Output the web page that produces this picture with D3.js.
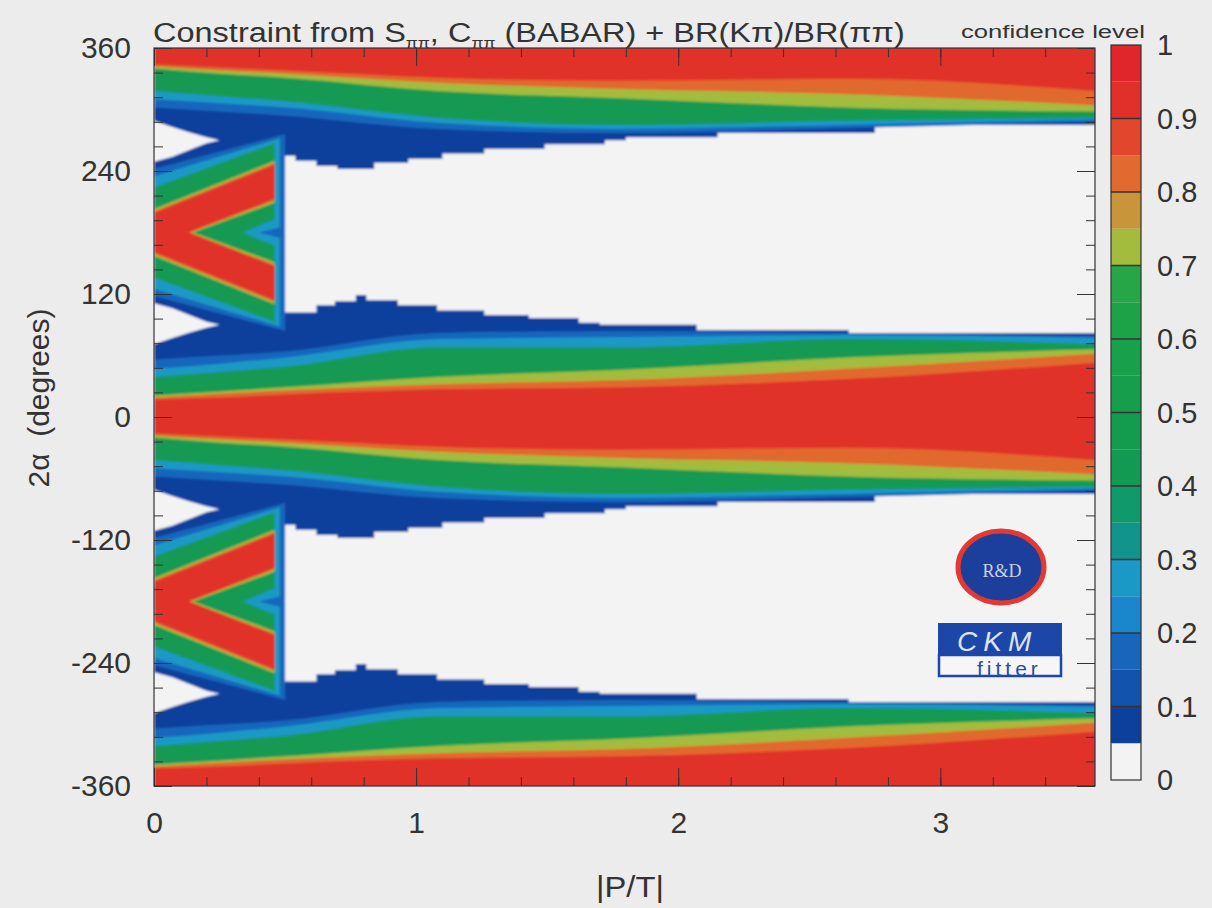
<!DOCTYPE html>
<meta charset="utf-8">
<script src="https://cdn.jsdelivr.net/npm/d3@7"></script>
<style>
  body { margin: 0; background: #ececec; }
  text { font-family: "Liberation Sans", Arial, sans-serif; fill: #333; }
</style>
<div id="chart"></div>
<script>

// ---- data ----

// |P/T| values where the band contours were read
var bandX = [0, 0.25, 0.5, 1.08, 1.78, 2.64, 3.59];
// contour of the central band, degrees from the band centre (upper side)
var up15 = [56, 60, 64, 82, 84, 82, 79];
var up25 = [47, 52, 58, 76, 78, 80, 77];
var up40 = [39, 44, 49, 68, 68, 76, 71];
var up70 = [21, 25, 29, 39, 46, 58, 66];
var up80 = [19, 23, 26, 32, 36, 47, 62];
var up90 = [17, 19, 22, 27, 29, 37, 53];
// lower side
var lo90 = [-16, -19, -22, -29, -32, -30, -42];
var lo80 = [-18, -22, -25, -34, -40, -45, -56];
var lo70 = [-20, -25, -29, -42, -49, -58, -62];
var lo40 = [-42, -47, -52, -68, -75, -71, -68];
var lo25 = [-50, -54, -58, -73, -79, -75, -70];
var lo15 = [-58, -62, -66, -79, -83, -78, -72];

// outer (CL = 0.05) edge of the band, binned steps
var edgeUpX = [0, 0.50, 0.62, 0.69, 0.77, 0.81, 0.93, 1.08, 1.26, 1.43, 1.62, 1.70, 2.07, 2.65];
var edgeUp  = [180, 102, 109, 113, 119, 114, 109, 104, 99.5, 96.5, 92, 90, 85, 82];
var edgeLoX = [0, 0.50, 0.54, 0.62, 0.70, 0.84, 0.97, 1.10, 1.26, 1.49, 1.72, 1.80, 2.15, 2.75];
var edgeLo  = [-180, -105, -110, -115, -118, -112, -108, -103, -98.5, -94, -90, -87, -83, -75];

// white spikes at small |P/T| (degrees from the band centre)
var spikeX    = [0, 0.07, 0.13, 0.20, 0.25];
var spikeNear = [71, 77, 82, 87, 90];
var spikeFar  = [111, 106, 100, 93, 90];

// chevron pattern around 2alpha = +-180
var chevLevel = [0.15, 0.25, 0.4, 0.7, 0.8, 0.9];
var chevOut0  = [62, 55, 44, 23, 21, 19];
var chevEndX  = [0.50, 0.48, 0.46, 0.46, 0.46, 0.46];
var chevOutE  = [96, 92, 87, 70, 68, 66];
var chevInE   = [0, 5, 13, 29, 31, 33];
var chevTipX  = [0.50, 0.40, 0.34, 0.15, 0.14, 0.13];

var bandOffsets = [-360, 0, 360];
var chevCentres = [-180, 180];

// colour palette, one colour per 0.05 of CL
var palette = ["#f3f3f3", "#0d3f9c", "#1253ad", "#1766bc", "#1a86cc", "#1a98c6",
               "#10948c", "#109a6c", "#129a52", "#149c4e", "#169e4c", "#18a04a",
               "#1ca348", "#26a646", "#a4bc3e", "#c8953a", "#e2692f", "#e2472d",
               "#e1302a", "#e0262a"];
var clTicks = [0, 0.1, 0.2, 0.3, 0.4, 0.5, 0.6, 0.7, 0.8, 0.9, 1];
var xTicks = [0, 1, 2, 3];
var yTicks = [-360, -240, -120, 0, 120, 240, 360];

// ---- drawing ----
var xMax = 3.59;
var x = d3.scaleLinear().domain([0, xMax]).range([154, 1095]);
var y = d3.scaleLinear().domain([-360, 360]).range([786, 48]);
var cl = d3.scaleLinear().domain([0, 1]).range([780, 45]);
function col(level) { return palette[Math.round(level / 0.05)]; }

var svg = d3.select("#chart").append("svg")
    .attr("width", 1212).attr("height", 908);

var defs = svg.append("defs");
defs.append("clipPath").attr("id", "clip")
  .append("rect").attr("x", 154).attr("y", 48).attr("width", 941).attr("height", 738);
defs.append("filter").attr("id", "soft")
  .append("feGaussianBlur").attr("stdDeviation", 1);

var plot = svg.append("g").attr("clip-path", "url(#clip)")
  .append("g").attr("filter", "url(#soft)");

plot.append("rect").attr("x", 140).attr("y", 30).attr("width", 980).attr("height", 780)
    .attr("fill", palette[0]);

var line = d3.line().x(function(d) { return x(d[0]); }).y(function(d) { return y(d[1]); });

function stairs(xs, vals, off) {
  var pts = [];
  xs.forEach(function(x0, i) {
    var x1 = i < xs.length - 1 ? xs[i + 1] : xMax + 0.1;
    pts.push([x0, off + vals[i]], [x1, off + vals[i]]);
  });
  return pts;
}

// outer edge of each band
bandOffsets.forEach(function(off) {
  var pts = stairs(edgeUpX, edgeUp, off).concat(stairs(edgeLoX, edgeLo, off).reverse());
  plot.append("path").attr("d", line(pts) + "Z").attr("fill", col(0.05));
});

// white spikes
bandOffsets.forEach(function(off) {
  [1, -1].forEach(function(s) {
    var pts = spikeX.map(function(sx, i) { return [sx, off + s * spikeNear[i]]; })
      .concat(spikeX.map(function(sx, i) { return [sx, off + s * spikeFar[i]]; }).reverse());
    plot.append("path").attr("d", line(pts) + "Z").attr("fill", palette[0]);
  });
});

// inner contours of the bands
var bandTable = [
  {level: 0.15, up: up15, lo: lo15},
  {level: 0.25, up: up25, lo: lo25},
  {level: 0.4,  up: up40, lo: lo40},
  {level: 0.7,  up: up70, lo: lo70},
  {level: 0.8,  up: up80, lo: lo80},
  {level: 0.9,  up: up90, lo: lo90}
];
bandOffsets.forEach(function(off) {
  bandTable.forEach(function(b) {
    var area = d3.area().curve(d3.curveMonotoneX)
      .x(function(d, i) { return x(bandX[i]); })
      .y0(function(d, i) { return y(off + b.lo[i]); })
      .y1(function(d, i) { return y(off + b.up[i]); });
    plot.append("path").attr("d", area(bandX)).attr("fill", col(b.level));
  });
});

// chevrons
chevCentres.forEach(function(c) {
  chevLevel.forEach(function(lv, k) {
    var xe = chevEndX[k];
    var pts = [[0, c + chevOut0[k]], [xe, c + chevOutE[k]], [xe, c + chevInE[k]],
               [chevTipX[k], c], [xe, c - chevInE[k]], [xe, c - chevOutE[k]], [0, c - chevOut0[k]]];
    plot.append("path").attr("d", line(pts) + "Z").attr("fill", col(lv));
  });
});

// axes (ticks inside, ROOT style)
function styleAxis(g) {
  g.select(".domain").remove();
  g.selectAll("line").attr("stroke", "#333");
  g.selectAll("text").style("font-size", "30px").attr("fill", "#333");
}
var plain = function(d) { return String(d); };
svg.append("g").attr("transform", "translate(154,0)")
  .call(d3.axisLeft(y).tickValues(d3.range(-360, 361, 24)).tickSize(-9).tickFormat("")).call(styleAxis);
svg.append("g").attr("transform", "translate(154,0)")
  .call(d3.axisLeft(y).tickValues(yTicks).tickSize(-18).tickPadding(23).tickFormat(plain))
  .call(styleAxis);
svg.append("g").attr("transform", "translate(1095,0)")
  .call(d3.axisRight(y).tickValues(d3.range(-360, 361, 24)).tickSize(-9).tickFormat("")).call(styleAxis);
svg.append("g").attr("transform", "translate(1095,0)")
  .call(d3.axisRight(y).tickValues(yTicks).tickSize(-18).tickFormat("")).call(styleAxis);
svg.append("g").attr("transform", "translate(0,786)")
  .call(d3.axisBottom(x).tickValues(d3.range(0, 3.59, 0.2)).tickSize(-9).tickFormat("")).call(styleAxis);
svg.append("g").attr("transform", "translate(0,786)")
  .call(d3.axisBottom(x).tickValues(xTicks).tickSize(-18).tickPadding(26).tickFormat(plain))
  .call(styleAxis);
svg.append("g").attr("transform", "translate(0,48)")
  .call(d3.axisTop(x).tickValues(d3.range(0, 3.59, 0.2)).tickSize(-9).tickFormat("")).call(styleAxis);
svg.append("g").attr("transform", "translate(0,48)")
  .call(d3.axisTop(x).tickValues(xTicks).tickSize(-18).tickFormat("")).call(styleAxis);

svg.append("rect").attr("x", 154).attr("y", 48).attr("width", 941).attr("height", 738)
  .attr("fill", "none").attr("stroke", "#333").attr("stroke-width", 1.2);

// stretch a text horizontally so it spans the width seen in the picture
function fitWidth(t, x0, y0, w) {
  var nat = t.node().getBBox().width;
  t.attr("transform", "translate(" + x0 + "," + y0 + ") scale(" + (w / nat) + ",1)");
}

// titles
var title = svg.append("text").style("font-size", "28px");
title.append("tspan").text("Constraint from S");
title.append("tspan").attr("dy", 6).style("font-size", "15px").text("ππ");
title.append("tspan").attr("dy", -6).text(", C");
title.append("tspan").attr("dy", 6).style("font-size", "15px").text("ππ");
title.append("tspan").attr("dy", -6).text(" (BABAR) + BR(Kπ)/BR(ππ)");
fitWidth(title, 153, 42, 752);

var clTitle = svg.append("text").style("font-size", "19px").text("confidence level");
fitWidth(clTitle, 961, 38, 184);

var xTitle = svg.append("text").style("font-size", "30px").text("|P/T|");
fitWidth(xTitle, 596, 897, 68);

svg.append("text").attr("transform", "translate(49,398) rotate(-90)").attr("text-anchor", "middle")
  .attr("xml:space", "preserve").style("white-space", "pre")
  .style("font-size", "30px").text("2α  (degrees)");

// colour bar
var bar = svg.append("g");
bar.selectAll("rect.c").data(palette).enter().append("rect")
  .attr("x", 1111).attr("width", 30)
  .attr("y", function(d, i) { return cl((i + 1) * 0.05); })
  .attr("height", function(d, i) { return cl(i * 0.05) - cl((i + 1) * 0.05); })
  .attr("fill", function(d) { return d; });
bar.selectAll("line").data(clTicks.slice(1, -1)).enter().append("line")
  .attr("x1", 1111).attr("x2", 1141)
  .attr("y1", function(d) { return cl(d); }).attr("y2", function(d) { return cl(d); })
  .attr("stroke", "#333").attr("stroke-width", 1.5);
bar.append("rect").attr("x", 1111).attr("y", cl(1)).attr("width", 30).attr("height", cl(0) - cl(1))
  .attr("fill", "none").attr("stroke", "#333").attr("stroke-width", 1.2);
bar.selectAll("text").data(clTicks).enter().append("text")
  .attr("x", 1157).attr("y", function(d) { return cl(d) + 10; })
  .style("font-size", "29px").text(function(d) { return d; });

// R&D / CKMfitter logos
var logo = svg.append("g");
logo.append("ellipse").attr("cx", 1001).attr("cy", 567).attr("rx", 43).attr("ry", 36)
  .attr("fill", "#1b3f9a").attr("stroke", "#e23a32").attr("stroke-width", 5);
logo.append("text").attr("x", 1002).attr("y", 577).attr("text-anchor", "middle")
  .style("font-family", "'Liberation Serif', serif").style("font-size", "18px")
  .style("fill", "#c9d0e6").text("R&D");
logo.append("rect").attr("x", 938).attr("y", 623).attr("width", 124).attr("height", 32).attr("fill", "#1c46a8");
logo.append("text").attr("x", 957).attr("y", 651).style("font-size", "28px").style("font-style", "italic")
  .style("letter-spacing", "6px").style("fill", "#dfe3ee").text("CKM");
logo.append("rect").attr("x", 939).attr("y", 655).attr("width", 122).attr("height", 21)
  .attr("fill", "#f6f6f6").attr("stroke", "#1c46a8").attr("stroke-width", 2.5);
logo.append("text").attr("x", 977).attr("y", 676).style("font-size", "21px")
  .style("letter-spacing", "4px").style("fill", "#2a4aa8").text("fitter");

</script>
